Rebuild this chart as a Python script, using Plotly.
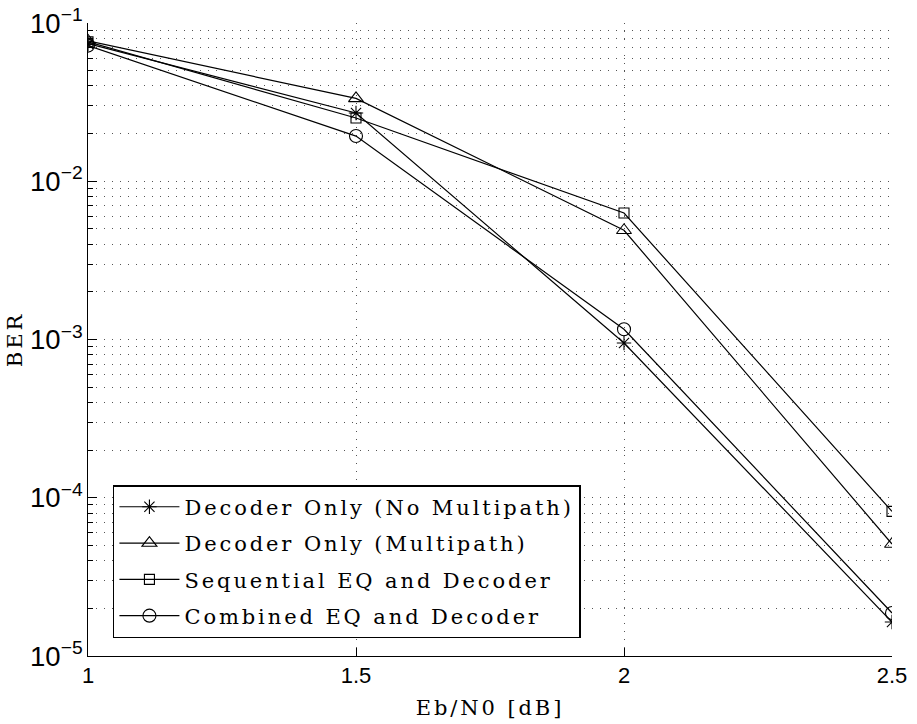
import plotly.graph_objects as go

ebn0 = [1.0, 1.5, 2.0, 2.5]
ber_no_multipath = [0.074, 0.027, 0.00095, 1.64e-5]
ber_multipath = [0.077, 0.0334, 0.0049, 5.1e-5]
ber_sequential = [0.076, 0.0251, 0.0063, 8.2e-5]
ber_combined = [0.072, 0.0193, 0.00116, 1.87e-5]

series_names = [
    "Decoder Only (No Multipath)",
    "Decoder Only (Multipath)",
    "Sequential EQ and Decoder",
    "Combined EQ and Decoder",
]
series_values = [ber_no_multipath, ber_multipath, ber_sequential, ber_combined]
symbols = ["asterisk-open", "triangle-up-open", "square-open", "circle-open"]
sizes = [12, 13, 10, 13]

serif = "DejaVu Serif, Liberation Serif, serif"
sans = "Liberation Sans, Arial, sans-serif"

fig = go.Figure()
for i, (name, vals, sym, sz) in enumerate(zip(series_names, series_values, symbols, sizes)):
    fig.add_trace(go.Scatter(
        x=ebn0, y=vals, name=name, mode="lines+markers",
        legendgroup=f"g{i}",
        line=dict(color="black", width=1.2),
        marker=dict(symbol=sym, size=sz, color="black",
                    line=dict(color="black", width=1.1)),
    ))

grid_dash = "1px,7px"
fig.update_layout(
    width=917, height=724,
    margin=dict(l=88, r=25, t=23, b=68, autoexpand=False),
    paper_bgcolor="white", plot_bgcolor="white",
    showlegend=True,
    legend=dict(
        x=0.031, y=0.270, xanchor="left", yanchor="top",
        bgcolor="white", bordercolor="black", borderwidth=1.5,
        font=dict(family=serif, size=21, color="black"),
        traceorder="grouped", tracegroupgap=6,
        itemwidth=60,
    ),
    xaxis=dict(
        range=[1, 2.5], tickvals=[1, 1.5, 2, 2.5], ticktext=["1", "1.5", "2", "2.5"],
        automargin=False,
        showline=True, linecolor="black", linewidth=1,
        ticks="inside", ticklen=8, tickcolor="black",
        showgrid=True, gridcolor="#555555", griddash=grid_dash, gridwidth=1,
        zeroline=False,
        tickfont=dict(family=sans, size=22, color="black"),
        title=dict(text="Eb/N0 [dB]", font=dict(family=serif, size=21, color="black"), standoff=12),
    ),
    yaxis=dict(
        type="log", range=[-5, -1], dtick=1, exponentformat="power",
        automargin=False,
        showline=True, linecolor="black", linewidth=1,
        ticks="inside", ticklen=9, tickcolor="black",
        showgrid=True, gridcolor="#555555", griddash=grid_dash, gridwidth=1,
        zeroline=False,
        tickfont=dict(family=sans, size=22, color="black"),
        minor=dict(dtick="D1", ticks="inside", ticklen=5, tickcolor="black",
                   showgrid=True, gridcolor="#555555", griddash=grid_dash, gridwidth=1),
        title=dict(text="BER", font=dict(family=serif, size=21, color="black"), standoff=1),
    ),
)

fig.write_html("out.html", config={"displayModeBar": False})

# remove default page margin and add the letter spacing of the serif labels
with open("out.html", "r", encoding="utf-8") as f:
    html = f.read()
style = ("<style>html,body{margin:0;padding:0;overflow:hidden;}"
         ".legendtext,.xtitle,.ytitle{letter-spacing:2.9px;}</style>")
html = html.replace("<head>", "<head>" + style, 1)
with open("out.html", "w", encoding="utf-8") as f:
    f.write(html)
